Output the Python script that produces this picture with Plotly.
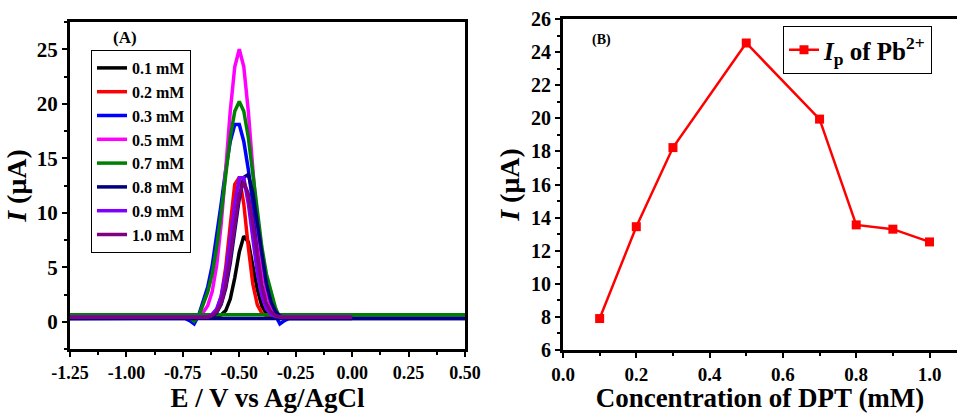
import plotly.graph_objects as go

# ---------------- Panel A data ----------------
E_GRID = [-0.74, -0.72, -0.70, -0.68, -0.66, -0.64, -0.62, -0.60, -0.58, -0.56,
          -0.54, -0.52, -0.50, -0.48, -0.46, -0.44, -0.42, -0.40, -0.38, -0.36,
          -0.34, -0.32, -0.30, -0.28]
E_START = -1.25

labels_A = ["0.1 mM", "0.2 mM", "0.3 mM", "0.5 mM", "0.7 mM", "0.8 mM", "0.9 mM", "1.0 mM"]
colors_A = ["#000000", "#FF0000", "#0000FF", "#FF00FF", "#008000", "#000080", "#7F00FF", "#800080"]
end_E = [0.0, 0.0, 0.0, 0.0, 0.5, 0.5, 0.0, 0.0]
baseline_A = [0.5, 0.5, 0.3, 0.5, 0.65, 0.3, 0.45, 0.42]

I_01 = [0.5, 0.5, 0.5, 0.5, 0.5, 0.5, 0.5, 0.52, 0.63, 1.03, 2.08, 4.03, 6.39, 7.85,
        7.32, 5.23, 2.95, 1.45, 0.77, 0.56, 0.5, 0.5, 0.5, 0.5]
I_02 = [0.5, 0.5, 0.5, 0.5, 0.5, 0.5, 0.63, 1.06, 2.33, 4.99, 8.87, 12.6, 13.25, 10.81,
        6.85, 3.46, 1.55, 0.78, 0.56, 0.5, 0.5, 0.5, 0.5, 0.5]
I_03 = [0.3, 0.1, -0.2, 0.6, 1.87, 3.18, 5.14, 7.76, 10.84, 13.96, 16.54, 18.1, 18.1, 16.54,
        13.96, 10.84, 7.76, 5.14, 3.18, 1.87, 0.6, -0.2, 0.1, 0.3]
I_05 = [0.5, 0.5, 0.5, 0.6, 0.86, 1.46, 2.77, 5.19, 9.0, 14.01, 19.31, 23.4, 25.0, 23.4,
        19.31, 14.01, 9.0, 5.19, 2.77, 1.46, 0.86, 0.6, 0.5, 0.5]
I_07 = [0.65, 0.4, 0.05, 0.5, 1.5, 2.71, 4.39, 6.85, 10.03, 13.58, 16.92, 19.32, 20.2, 19.32,
        16.92, 13.58, 10.03, 6.85, 4.39, 2.71, 1.3, 0.3, 0.3, 0.65]
I_08 = [0.3, 0.3, 0.3, 0.3, 0.35, 0.4, 0.49, 0.83, 1.61, 3.08, 5.40, 8.37, 11.31, 13.25,
        13.5, 11.8, 8.99, 5.96, 3.48, 1.84, 0.94, 0.53, 0.35, 0.3]
I_09 = [0.45, 0.45, 0.45, 0.45, 0.45, 0.45, 0.69, 1.19, 2.35, 4.49, 7.57, 10.84, 13.2, 13.2,
        10.84, 7.57, 4.49, 2.35, 1.19, 0.69, 0.5, 0.45, 0.45, 0.45]
I_10 = [0.42, 0.42, 0.42, 0.42, 0.42, 0.42, 0.57, 0.90, 1.71, 3.33, 5.90, 9.04, 11.73, 12.8,
        11.73, 9.04, 5.90, 3.33, 1.71, 0.90, 0.57, 0.42, 0.42, 0.42]
currents_A = [I_01, I_02, I_03, I_05, I_07, I_08, I_09, I_10]

# flat return lines seen for 0.7 mM and 0.8 mM
flat_idx = {4: 0.65, 5: 0.3}

# ---------------- Panel B data ----------------
conc_B = [0.1, 0.2, 0.3, 0.5, 0.7, 0.8, 0.9, 1.0]
Ip_B = [7.9, 13.45, 18.23, 24.55, 19.95, 13.56, 13.3, 12.53]

FONT = "Liberation Serif"

fig = go.Figure()

for i, (lab, col, ys) in enumerate(zip(labels_A, colors_A, currents_A)):
    xs = [E_START] + E_GRID + [end_E[i]]
    yv = [baseline_A[i]] + ys + [baseline_A[i]]
    if i in flat_idx:
        xs = xs + [None, E_START, end_E[i]]
        yv = yv + [None, flat_idx[i], flat_idx[i]]
    fig.add_trace(go.Scatter(x=xs, y=yv, mode="lines", name=lab,
                             line=dict(color=col, width=3.5),
                             xaxis="x", yaxis="y", legend="legend",
                             connectgaps=False))

fig.add_trace(go.Scatter(x=conc_B, y=Ip_B, mode="lines+markers",
                         name="<i>I</i><sub>p</sub> of Pb<sup>2+</sup>",
                         line=dict(color="#FF0000", width=2.5),
                         marker=dict(symbol="square", size=9, color="#FF0000"),
                         xaxis="x2", yaxis="y2", legend="legend2"))


def axis_style(size):
    return dict(showline=True, linecolor="black", linewidth=3, mirror=True,
                ticks="outside", ticklen=5, tickwidth=2, tickcolor="black",
                showgrid=False, zeroline=False, automargin=False,
                tickfont=dict(family=FONT, size=size, color="black", weight="bold"))


MINOR = dict(ticks="outside", ticklen=3, tickwidth=2, tickcolor="black")
TITLE_FONT = dict(family=FONT, size=28, color="black", weight="bold")
XTITLE_FONT = dict(family=FONT, size=27, color="black", weight="bold")

fig.update_layout(
    template="none",
    width=957, height=413,
    margin=dict(l=0, r=0, t=0, b=0, autoexpand=False),
    plot_bgcolor="white", paper_bgcolor="white",
    xaxis=dict(domain=[70/957, 465/957], range=[-1.25, 0.5], anchor="y",
               tickvals=[-1.25, -1.0, -0.75, -0.5, -0.25, 0.0, 0.25, 0.5],
               ticktext=["-1.25", "-1.00", "-0.75", "-0.50", "-0.25", "0.00", "0.25", "0.50"],
               minor=dict(dtick=0.125, **MINOR),
               title=dict(text="E / V vs Ag/AgCl", standoff=8, font=XTITLE_FONT),
               **axis_style(18)),
    yaxis=dict(domain=[(413-349)/413, (413-22)/413], range=[-2.5, 27.5], anchor="x",
               tickvals=[0, 5, 10, 15, 20, 25],
               minor=dict(dtick=2.5, **MINOR),
               title=dict(text="<i>I</i> (μA)", standoff=2, font=TITLE_FONT),
               **axis_style(21)),
    xaxis2=dict(domain=[563/957, 1.0], range=[0, 1.075], anchor="y2",
                tickvals=[0.0, 0.2, 0.4, 0.6, 0.8, 1.0],
                ticktext=["0.0", "0.2", "0.4", "0.6", "0.8", "1.0"],
                minor=dict(dtick=0.1, **MINOR),
                title=dict(text="Concentration of DPT (mM)", standoff=8, font=XTITLE_FONT),
                **axis_style(19)),
    yaxis2=dict(domain=[(413-350)/413, (413-19)/413], range=[6, 26], anchor="x2",
                tickvals=list(range(6, 27, 2)),
                minor=dict(dtick=1, **MINOR),
                title=dict(text="<i>I</i> (μA)", standoff=4, font=TITLE_FONT),
                **axis_style(20)),
    showlegend=True,
    legend=dict(x=91/957, y=(413-50)/413, xanchor="left", yanchor="top",
                bordercolor="black", borderwidth=1, bgcolor="white",
                font=dict(family=FONT, size=16, color="black", weight="bold"),
                tracegroupgap=0, itemwidth=30),
    legend2=dict(x=783/957, y=(413-26)/413, xanchor="left", yanchor="top",
                 bordercolor="black", borderwidth=1, bgcolor="white",
                 font=dict(family=FONT, size=25, color="black", weight="bold")),
    annotations=[
        dict(text="(A)", x=125/957, y=(413-38)/413, xref="paper", yref="paper",
             xanchor="center", yanchor="middle",
             showarrow=False, font=dict(family=FONT, size=17, color="black", weight="bold")),
        dict(text="(B)", x=601/957, y=(413-40)/413, xref="paper", yref="paper",
             xanchor="center", yanchor="middle",
             showarrow=False, font=dict(family=FONT, size=14, color="black", weight="bold")),
    ],
)

fig.write_html("out.html")
